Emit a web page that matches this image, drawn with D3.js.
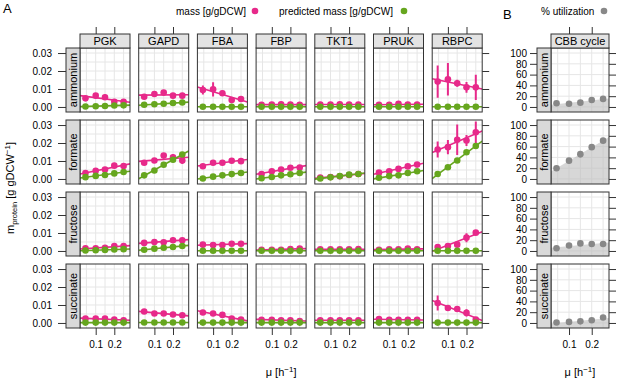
<!DOCTYPE html>
<html>
<head>
<meta charset="utf-8">
<script src="https://cdn.jsdelivr.net/npm/d3@7"></script>
<style>
  body { margin: 0; background: #fff; }
  svg { font-family: "Liberation Sans", Arial, sans-serif; }
</style>
</head>
<body>
<div id="wrapper"></div>
<script>
// ---- data ----
const growthRates = [0.045, 0.1, 0.15, 0.2, 0.25];
const conditions = ["ammonium", "formate", "fructose", "succinate"];
const enzymes = ["PGK", "GAPD", "FBA", "FBP", "TKT1", "PRUK", "RBPC"];

// measured mass [g/gDCW], one row per enzyme (order as above)
const massAmmonium = [
  [0.0048, 0.0063, 0.0054, 0.0029, 0.0029],
  [0.0057, 0.0072, 0.0080, 0.0063, 0.0063],
  [0.0094, 0.0098, 0.0076, 0.0039, 0.0044],
  [0.0012, 0.0013, 0.0015, 0.0013, 0.0012],
  [0.0013, 0.0014, 0.0015, 0.0013, 0.0013],
  [0.0012, 0.0012, 0.0018, 0.0014, 0.0013],
  [0.0141, 0.0154, 0.0132, 0.0109, 0.0109],
];
const massFormate = [
  [0.0033, 0.0046, 0.0053, 0.0074, 0.0072],
  [0.0090, 0.0103, 0.0130, 0.0120, 0.0103],
  [0.0071, 0.0090, 0.0090, 0.0101, 0.0099],
  [0.0028, 0.0043, 0.0053, 0.0062, 0.0064],
  [0.0008, 0.0011, 0.0015, 0.0022, 0.0028],
  [0.0035, 0.0043, 0.0056, 0.0070, 0.0080],
  [0.0164, 0.0177, 0.0218, 0.0214, 0.0260],
];
const massFructose = [
  [0.0015, 0.0015, 0.0017, 0.0027, 0.0027],
  [0.0045, 0.0050, 0.0048, 0.0060, 0.0060],
  [0.0035, 0.0033, 0.0033, 0.0040, 0.0040],
  [0.0007, 0.0007, 0.0007, 0.0011, 0.0013],
  [0.0009, 0.0009, 0.0009, 0.0009, 0.0010],
  [0.0007, 0.0009, 0.0009, 0.0013, 0.0009],
  [0.0022, 0.0028, 0.0035, 0.0074, 0.0102],
];
const massSuccinate = [
  [0.0024, 0.0024, 0.0024, 0.0019, 0.0015],
  [0.0064, 0.0053, 0.0053, 0.0047, 0.0043],
  [0.0058, 0.0053, 0.0045, 0.0024, 0.0019],
  [0.0018, 0.0018, 0.0015, 0.0015, 0.0011],
  [0.0015, 0.0015, 0.0015, 0.0015, 0.0015],
  [0.0022, 0.0018, 0.0018, 0.0018, 0.0018],
  [0.0111, 0.0083, 0.0078, 0.0056, 0.0019],
];

// error bars (half length) of measured mass
const sdAmmonium = [
  [0.0012, 0.0012, 0.0015, 0.0005, 0.0006],
  [0.0008, 0.0010, 0.0015, 0.0008, 0.0006],
  [0.0025, 0.0040, 0.0015, 0.0012, 0.0008],
  [0.0003, 0.0003, 0.0004, 0.0003, 0.0003],
  [0.0003, 0.0003, 0.0003, 0.0003, 0.0003],
  [0.0003, 0.0003, 0.0005, 0.0003, 0.0003],
  [0.0090, 0.0090, 0.0020, 0.0030, 0.0070],
];
const sdFormate = [
  [0.0008, 0.0008, 0.0008, 0.0010, 0.0008],
  [0.0010, 0.0010, 0.0012, 0.0018, 0.0020],
  [0.0008, 0.0010, 0.0008, 0.0010, 0.0012],
  [0.0006, 0.0008, 0.0008, 0.0010, 0.0010],
  [0.0004, 0.0004, 0.0004, 0.0004, 0.0004],
  [0.0006, 0.0008, 0.0008, 0.0010, 0.0012],
  [0.0045, 0.0040, 0.0085, 0.0030, 0.0060],
];
const sdFructose = [
  [0.0005, 0.0005, 0.0005, 0.0010, 0.0008],
  [0.0008, 0.0008, 0.0008, 0.0015, 0.0012],
  [0.0008, 0.0006, 0.0006, 0.0012, 0.0012],
  [0.0004, 0.0004, 0.0004, 0.0004, 0.0004],
  [0.0003, 0.0003, 0.0003, 0.0003, 0.0003],
  [0.0003, 0.0003, 0.0003, 0.0004, 0.0003],
  [0.0008, 0.0006, 0.0010, 0.0025, 0.0010],
];
const sdSuccinate = [
  [0.0005, 0.0005, 0.0005, 0.0005, 0.0004],
  [0.0008, 0.0006, 0.0006, 0.0006, 0.0006],
  [0.0006, 0.0006, 0.0006, 0.0006, 0.0005],
  [0.0004, 0.0004, 0.0004, 0.0004, 0.0004],
  [0.0003, 0.0003, 0.0003, 0.0003, 0.0003],
  [0.0004, 0.0004, 0.0004, 0.0004, 0.0004],
  [0.0042, 0.0010, 0.0010, 0.0020, 0.0008],
];

// predicted mass [g/gDCW]
const predAmmonium = [
  [0.0003, 0.0004, 0.0005, 0.0008, 0.0009],
  [0.0012, 0.0015, 0.0018, 0.0022, 0.0025],
  [0.0001, 0.0001, 0.0001, 0.0001, 0.0001],
  [0.0001, 0.0001, 0.0001, 0.0001, 0.0001],
  [0.0001, 0.0001, 0.0001, 0.0001, 0.0001],
  [0.0001, 0.0001, 0.0001, 0.0001, 0.0001],
  [0.0001, 0.0001, 0.0001, 0.0001, 0.0001],
];
const predFormate = [
  [0.0010, 0.0017, 0.0022, 0.0031, 0.0039],
  [0.0020, 0.0047, 0.0079, 0.0107, 0.0136],
  [0.0003, 0.0013, 0.0020, 0.0027, 0.0033],
  [0.0004, 0.0011, 0.0020, 0.0026, 0.0033],
  [0.0003, 0.0009, 0.0016, 0.0024, 0.0028],
  [0.0007, 0.0016, 0.0020, 0.0033, 0.0043],
  [0.0028, 0.0065, 0.0103, 0.0149, 0.0183],
];
const predFructose = [
  [0.0003, 0.0004, 0.0006, 0.0008, 0.0010],
  [0.0007, 0.0013, 0.0018, 0.0022, 0.0028],
  [0.0001, 0.0001, 0.0001, 0.0001, 0.0001],
  [0.0001, 0.0001, 0.0001, 0.0001, 0.0001],
  [0.0001, 0.0001, 0.0001, 0.0001, 0.0001],
  [0.0001, 0.0001, 0.0001, 0.0001, 0.0001],
  [0.0001, 0.0001, 0.0001, 0.0001, 0.0001],
];
const predSuccinate = [
  [0.0002, 0.0002, 0.0002, 0.0002, 0.0002],
  [0.0003, 0.0003, 0.0003, 0.0003, 0.0003],
  [0.0002, 0.0002, 0.0002, 0.0002, 0.0002],
  [0.0002, 0.0002, 0.0002, 0.0002, 0.0002],
  [0.0002, 0.0002, 0.0002, 0.0002, 0.0002],
  [0.0002, 0.0002, 0.0002, 0.0002, 0.0002],
  [0.0002, 0.0002, 0.0002, 0.0002, 0.0002],
];

// panel B: % utilization of CBB cycle, one row per condition
const cbbUtilization = [
  [7, 6, 8, 13, 15],
  [20, 34, 46, 59, 71],
  [5, 10, 14, 13, 13],
  [1, 2, 3, 5, 10],
];
const cbbSd = [
  [2, 2, 2, 2, 2],
  [3, 3, 6, 3, 3],
  [2, 2, 2, 4, 2],
  [1, 1, 2, 2, 2],
];

const massByCondition = [massAmmonium, massFormate, massFructose, massSuccinate];
const sdByCondition = [sdAmmonium, sdFormate, sdFructose, sdSuccinate];
const predByCondition = [predAmmonium, predFormate, predFructose, predSuccinate];

const massTicks = [0, 0.01, 0.02, 0.03];
const utilTicks = [0, 20, 40, 60, 80, 100];
const muTicks = [0.1, 0.2];

const PINK = "#e7298a";
const GREEN = "#66a61e";
const GREY = "#888888";

// ---- layout ----
const width = 617, height = 379;
const colLeft = 80, colStep = 58.7, colWidth = 50;
const rowTop = 48, rowStep = 72, rowHeight = 64;
const stripSize = 14;
const bLeft = 551, bWidth = 58;

const svg = d3.select("#wrapper").append("svg")
  .attr("width", width)
  .attr("height", height);

const xA = d3.scaleLinear().domain([0.0156, 0.2844]).range([0, colWidth]);
const xB = d3.scaleLinear().domain([0.0207, 0.276]).range([0, bWidth]);
const yA = d3.scaleLinear().domain([-0.0028, 0.0328]).range([rowHeight, 0]);
const yB = d3.scaleLinear().domain([-9.33, 109.33]).range([rowHeight, 0]);

// least squares line through a series
function lmFit(xs, ys) {
  const mx = d3.mean(xs), my = d3.mean(ys);
  let sxy = 0, sxx = 0;
  xs.forEach((x, i) => { sxy += (x - mx) * (ys[i] - my); sxx += (x - mx) ** 2; });
  const b = sxy / sxx;
  return x => my + b * (x - mx);
}

let clipId = 0;
function makePanel(left, top, w, x, y, xGrid, yGrid) {
  const g = svg.append("g").attr("transform", `translate(${left},${top})`);
  const id = "clip" + (clipId++);
  g.append("clipPath").attr("id", id)
    .append("rect").attr("width", w).attr("height", rowHeight);
  const inner = g.append("g").attr("clip-path", `url(#${id})`);
  inner.selectAll(".vgrid").data(xGrid).join("line")
    .attr("x1", d => x(d)).attr("x2", d => x(d))
    .attr("y1", 0).attr("y2", rowHeight)
    .attr("stroke", "#e6e6e6");
  inner.selectAll(".hgrid").data(yGrid).join("line")
    .attr("y1", d => y(d)).attr("y2", d => y(d))
    .attr("x1", 0).attr("x2", w)
    .attr("stroke", "#e6e6e6");
  return { g, inner };
}

function frame(g, w) {
  g.append("rect").attr("width", w).attr("height", rowHeight)
    .attr("fill", "none").attr("stroke", "#333").attr("stroke-width", 1);
}

function drawSeries(inner, x, y, vals, sds, color) {
  const f = lmFit(growthRates, vals);
  const [d0, d1] = x.domain();
  inner.append("line")
    .attr("x1", x(d0)).attr("y1", y(f(d0)))
    .attr("x2", x(d1)).attr("y2", y(f(d1)))
    .attr("stroke", color).attr("stroke-width", 1.6);
  if (sds) {
    inner.selectAll(null).data(vals).join("line")
      .attr("x1", (d, i) => x(growthRates[i])).attr("x2", (d, i) => x(growthRates[i]))
      .attr("y1", (d, i) => y(d - sds[i])).attr("y2", (d, i) => y(d + sds[i]))
      .attr("stroke", color).attr("stroke-width", 2);
  }
  inner.selectAll(null).data(vals).join("circle")
    .attr("cx", (d, i) => x(growthRates[i]))
    .attr("cy", d => y(d))
    .attr("r", 3.3)
    .attr("fill", color);
}

function topStrip(left, w, label) {
  svg.append("rect").attr("x", left).attr("y", rowTop - stripSize)
    .attr("width", w).attr("height", stripSize)
    .attr("fill", "#e3e3e3").attr("stroke", "#333");
  svg.append("text").attr("x", left + w / 2).attr("y", rowTop - 3)
    .attr("text-anchor", "middle").attr("font-size", 11).text(label);
}

function leftStrip(left, top, label) {
  svg.append("rect").attr("x", left - stripSize).attr("y", top)
    .attr("width", stripSize).attr("height", rowHeight)
    .attr("fill", "#d9d9d9").attr("stroke", "#333");
  svg.append("text")
    .attr("transform", `translate(${left - 3},${top + rowHeight / 2}) rotate(-90)`)
    .attr("text-anchor", "middle").attr("font-size", 11).text(label);
}

function styleAxis(sel) {
  sel.select(".domain").remove();
  sel.selectAll(".tick line").attr("stroke", "#333");
  sel.selectAll(".tick text").attr("fill", "#000")
    .attr("font-family", "Liberation Sans, Arial, sans-serif").attr("font-size", 10);
}

const massGrid = d3.range(0, 0.0301, 0.005);
const muGrid = [0.05, 0.1, 0.15, 0.2, 0.25];
const utilGrid = utilTicks;

// ---- panel A ----
conditions.forEach((cond, r) => {
  const top = rowTop + r * rowStep;
  enzymes.forEach((enz, c) => {
    const left = colLeft + c * colStep;
    const { g, inner } = makePanel(left, top, colWidth, xA, yA, muGrid, massGrid);
    drawSeries(inner, xA, yA, massByCondition[r][c], sdByCondition[r][c], PINK);
    drawSeries(inner, xA, yA, predByCondition[r][c], null, GREEN);
    frame(g, colWidth);
  });
  leftStrip(colLeft, top, cond);

  // left axis with labels
  svg.append("g")
    .attr("transform", `translate(${colLeft - stripSize},${top})`)
    .call(d3.axisLeft(yA).tickValues(massTicks).tickFormat(d3.format(".2f"))
      .tickSize(8).tickPadding(6).tickSizeOuter(0))
    .call(styleAxis);
  // right axis, ticks only
  svg.append("g")
    .attr("transform", `translate(${colLeft + 6 * colStep + colWidth},${top})`)
    .call(d3.axisRight(yA).tickValues(massTicks).tickFormat("").tickSize(7).tickSizeOuter(0))
    .call(styleAxis);
});

enzymes.forEach((enz, c) => {
  const left = colLeft + c * colStep;
  topStrip(left, colWidth, enz);
  svg.append("g")
    .attr("transform", `translate(${left},${rowTop - stripSize})`)
    .call(d3.axisTop(xA).tickValues(muTicks).tickFormat("").tickSize(7).tickSizeOuter(0))
    .call(styleAxis);
  svg.append("g")
    .attr("transform", `translate(${left},${rowTop + 3 * rowStep + rowHeight})`)
    .call(d3.axisBottom(xA).tickValues(muTicks).tickFormat(d3.format(".1f"))
      .tickSize(7).tickPadding(6).tickSizeOuter(0))
    .call(styleAxis);
});

// ---- panel B ----
conditions.forEach((cond, r) => {
  const top = rowTop + r * rowStep;
  const { g, inner } = makePanel(bLeft, top, bWidth, xB, yB, muGrid, utilGrid);
  const vals = cbbUtilization[r];
  const f = lmFit(growthRates, vals);
  const [d0, d1] = xB.domain();
  inner.append("path")
    .datum([d0, d1])
    .attr("d", d3.area().x(d => xB(d)).y0(rowHeight).y1(d => yB(f(d))))
    .attr("fill", "#bdbdbd").attr("fill-opacity", 0.6);
  inner.selectAll(null).data(vals).join("line")
    .attr("x1", (d, i) => xB(growthRates[i])).attr("x2", (d, i) => xB(growthRates[i]))
    .attr("y1", (d, i) => yB(d - cbbSd[r][i])).attr("y2", (d, i) => yB(d + cbbSd[r][i]))
    .attr("stroke", GREY).attr("stroke-width", 2);
  inner.selectAll(null).data(vals).join("circle")
    .attr("cx", (d, i) => xB(growthRates[i]))
    .attr("cy", d => yB(d))
    .attr("r", 3.3)
    .attr("fill", GREY);
  frame(g, bWidth);
  leftStrip(bLeft, top, cond);

  svg.append("g")
    .attr("transform", `translate(${bLeft - stripSize},${top})`)
    .call(d3.axisLeft(yB).tickValues(utilTicks).tickSize(7).tickPadding(3).tickSizeOuter(0))
    .call(styleAxis);
  svg.append("g")
    .attr("transform", `translate(${bLeft + bWidth},${top})`)
    .call(d3.axisRight(yB).tickValues(utilTicks).tickFormat("").tickSize(7).tickSizeOuter(0))
    .call(styleAxis);
});
topStrip(bLeft, bWidth, "CBB cycle");
svg.append("g")
  .attr("transform", `translate(${bLeft},${rowTop - stripSize})`)
  .call(d3.axisTop(xB).tickValues(muTicks).tickFormat("").tickSize(7).tickSizeOuter(0))
  .call(styleAxis);
svg.append("g")
  .attr("transform", `translate(${bLeft},${rowTop + 3 * rowStep + rowHeight})`)
  .call(d3.axisBottom(xB).tickValues(muTicks).tickFormat(d3.format(".1f"))
    .tickSize(7).tickPadding(6).tickSizeOuter(0))
  .call(styleAxis);

// ---- titles & legends ----
svg.append("text").attr("x", 3).attr("y", 13).attr("font-size", 13).text("A");
svg.append("text").attr("x", 503).attr("y", 19).attr("font-size", 13).text("B");

const legendY = 11;
function legendItem(xText, xDot, label, color) {
  svg.append("text").attr("x", xText).attr("y", legendY + 3.5)
    .attr("font-size", 10).text(label);
  svg.append("circle").attr("cx", xDot).attr("cy", legendY).attr("r", 3.3).attr("fill", color);
}
legendItem(176, 255, "mass [g/gDCW]", PINK);
legendItem(279, 404, "predicted mass [g/gDCW]", GREEN);
legendItem(541, 604, "% utilization", GREY);

function muTitle(cx) {
  const t = svg.append("text").attr("x", cx).attr("y", 376)
    .attr("text-anchor", "middle").attr("font-size", 11);
  t.append("tspan").text("μ [h");
  t.append("tspan").attr("dy", -4).attr("font-size", 8).text("−1");
  t.append("tspan").attr("dy", 4).text("]");
}
muTitle(colLeft + (6 * colStep + colWidth) / 2);
muTitle(bLeft + bWidth / 2);

const yTitle = svg.append("text")
  .attr("transform", `translate(14,${rowTop + (3 * rowStep + rowHeight) / 2}) rotate(-90)`)
  .attr("text-anchor", "middle").attr("font-size", 11);
yTitle.append("tspan").text("m");
yTitle.append("tspan").attr("dy", 3).attr("font-size", 7.5).text("protein");
yTitle.append("tspan").attr("dy", -3).text(" [g gDCW");
yTitle.append("tspan").attr("dy", -4).attr("font-size", 8).text("−1");
yTitle.append("tspan").attr("dy", 4).text("]");
</script>
</body>
</html>
